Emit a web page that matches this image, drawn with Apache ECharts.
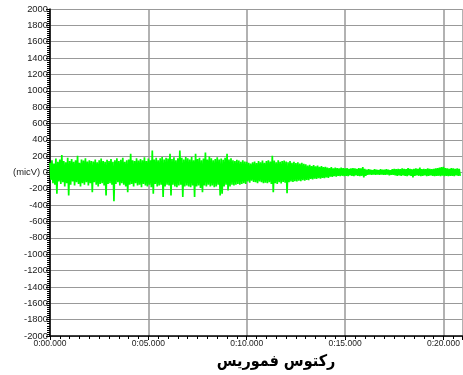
<!DOCTYPE html>
<html>
<head>
<meta charset="utf-8">
<script src="https://cdn.jsdelivr.net/npm/echarts@6/dist/echarts.min.js"></script>
<style>
html,body{margin:0;padding:0;background:#fff;}
#chart{width:463px;height:375px;}
</style>
</head>
<body>
<div id="chart"></div>
<script>
// ---- data ----
const sampleStepSeconds = 0.05; // spacing of the read-off samples along time
const emgMicroVolts = [
  120,-90,150,-130,110,-150,170,-260,130,-110,160,-140,215,-120,140,-170,125,-130,180,-280,
  140,-150,165,-110,130,-160,150,-120,205,-140,120,-170,160,-130,145,-150,175,-120,135,-160,
  150,-130,140,-240,135,-120,160,-150,125,-170,150,-140,170,-130,140,-160,130,-280,155,-140,
  140,-130,165,-150,130,-350,150,-140,175,-120,140,-160,155,-130,180,-150,130,-170,150,-240,
  160,-150,230,-140,150,-170,140,-130,175,-160,145,-150,165,-180,150,-140,185,-160,140,-170,
  170,-150,150,-180,270,-260,160,-140,180,-170,150,-160,175,-150,190,-300,160,-170,180,-150,
  170,-160,230,-280,165,-150,185,-170,150,-180,175,-160,270,-150,180,-300,160,-170,190,-160,
  175,-170,160,-180,190,-160,150,-300,230,-170,165,-160,180,-190,150,-240,170,-160,245,-170,
  160,-150,195,-170,175,-160,150,-180,165,-170,185,-150,160,-280,170,-260,155,-170,180,-150,
  230,-220,160,-170,175,-150,150,-160,140,-150,155,-140,145,-150,130,-140,150,-130,135,-140,
  130,-110,120,-125,110,-100,125,-115,135,-120,115,-130,140,-110,125,-120,145,-130,120,-125,
  140,-130,150,-120,135,-140,205,-240,145,-130,125,-140,150,-120,130,-135,140,-115,145,-125,
  135,-255,125,-120,140,-110,120,-115,130,-105,115,-110,125,-100,110,-105,120,-95,105,-100,
  100,-90,85,-95,95,-80,80,-85,90,-75,75,-80,85,-70,70,-75,80,-65,65,-70,
  70,-60,60,-65,55,-50,65,-55,50,-45,60,-50,55,-40,50,-45,60,-40,55,-45,
  50,-40,55,-45,45,-35,50,-40,55,-45,50,-35,45,-40,55,-45,50,-40,65,-60,
  45,-40,35,-30,40,-25,35,-30,30,-25,40,-30,35,-25,30,-30,40,-25,35,-30,
  35,-30,40,-25,35,-35,30,-30,40,-30,45,-35,40,-40,45,-35,40,-40,50,-35,
  45,-40,40,-45,55,-35,45,-40,40,-60,45,-40,50,-35,45,-40,60,-45,40,-40,
  45,-35,40,-45,50,-40,45,-35,40,-40,45,-45,50,-40,55,-40,60,-45,65,-40,
  70,-45,55,-40,50,-45,45,-40,55,-40,50,-45,45,-35,50,-40,45,-40
];
const xTickSeconds = [0, 5, 10, 15, 20];
const xTickLabels = ['0:00.000', '0:05.000', '0:10.000', '0:15.000', '0:20.000'];
const yUnitLabel = '(micV)';
const chartTitle = 'رکتوس فموریس';

// ---- chart ----
const seriesData = emgMicroVolts.map((v, i) => [i * sampleStepSeconds, v]);
const chart = echarts.init(document.getElementById('chart'), null, {renderer: 'canvas'});
chart.setOption({
  animation: false,
  backgroundColor: '#ffffff',
  grid: {left: 50, right: 0, top: 9, bottom: 39},
  xAxis: {
    type: 'value',
    min: 0,
    max: 20.96,
    interval: 5,
    axisLine: {show: true, onZero: false, lineStyle: {color: '#000', width: 1.5}},
    axisTick: {show: true, inside: false, length: 4, lineStyle: {color: '#000'}},
    minorTick: {show: true, splitNumber: 10, length: 3, lineStyle: {color: '#000'}},
    splitLine: {show: true, lineStyle: {color: '#999', width: 1.5}},
    axisLabel: {
      margin: 3,
      fontSize: 8.5,
      color: '#222',
      fontFamily: 'Liberation Sans, Arial, sans-serif',
      showMaxLabel: false,
      formatter: function (v) {
        const k = xTickSeconds.indexOf(Math.round(v));
        return k >= 0 ? xTickLabels[k] : '';
      }
    }
  },
  yAxis: {
    type: 'value',
    min: -2000,
    max: 2000,
    interval: 200,
    axisLine: {show: true, lineStyle: {color: '#000', width: 1.5}},
    axisTick: {show: true, inside: false, length: 4, lineStyle: {color: '#000'}},
    minorTick: {show: true, splitNumber: 8, length: 3, lineStyle: {color: '#000'}},
    splitLine: {show: true, lineStyle: {color: '#999', width: 1}},
    axisLabel: {
      margin: 2,
      fontSize: 9.4,
      color: '#222',
      fontFamily: 'Liberation Sans, Arial, sans-serif',
      formatter: function (v) {
        return v === 0 ? yUnitLabel + ' 0' : String(v);
      }
    }
  },
  series: [{
    type: 'line',
    data: seriesData,
    showSymbol: false,
    symbol: 'none',
    sampling: null,
    lineStyle: {color: '#00ff00', width: 1.7},
    z: 5
  }],
  graphic: [{
    type: 'text',
    x: 276,
    y: 362,
    style: {
      text: chartTitle,
      fontSize: 16,
      fontWeight: 'bold',
      fontFamily: 'DejaVu Sans Condensed, DejaVu Sans, sans-serif',
      fill: '#000',
      textAlign: 'center',
      textVerticalAlign: 'middle'
    }
  }]
});
</script>
</body>
</html>
